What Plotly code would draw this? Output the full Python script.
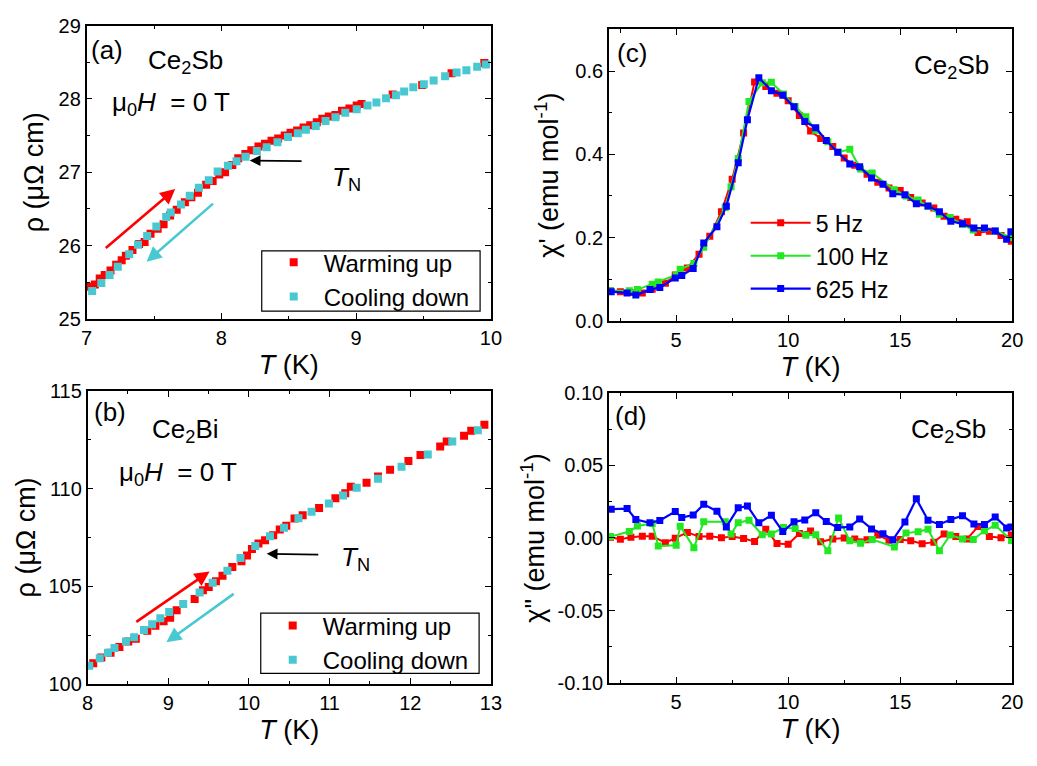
import plotly.graph_objects as go

# ---------------- data ----------------
# (a) Ce2Sb resistivity
a_warm_T = [7.012,7.061,7.097,7.134,7.177,7.219,7.260,7.291,7.340,7.389,7.430,7.474,7.527,7.571,7.619,7.668,7.729,7.777,7.826,7.887,7.935,7.984,8.027,8.081,8.125,8.178,8.222,8.275,8.324,8.372,8.421,8.470,8.513,8.562,8.610,8.659,8.708,8.749,8.797,8.846,8.895,8.950,9.004,9.040,9.271,9.490,9.708,9.951]
a_warm_rho = [25.44,25.47,25.55,25.60,25.66,25.74,25.80,25.86,25.94,26.02,26.05,26.16,26.23,26.29,26.41,26.49,26.59,26.66,26.72,26.83,26.88,26.97,27.00,27.10,27.19,27.25,27.30,27.35,27.39,27.43,27.46,27.50,27.54,27.57,27.61,27.64,27.68,27.73,27.76,27.78,27.84,27.87,27.91,27.93,28.06,28.19,28.35,28.49]
a_cool_T = [7.041,7.109,7.170,7.231,7.316,7.381,7.449,7.517,7.590,7.624,7.700,7.765,7.833,7.906,7.972,8.049,8.112,8.178,8.263,8.336,8.416,8.494,8.567,8.627,8.700,8.773,8.846,8.919,9.004,9.084,9.150,9.222,9.295,9.356,9.424,9.502,9.575,9.660,9.745,9.818,9.898,9.963]
a_cool_rho = [25.38,25.49,25.60,25.71,25.88,26.01,26.13,26.26,26.39,26.45,26.56,26.68,26.79,26.89,27.01,27.09,27.15,27.21,27.29,27.34,27.41,27.48,27.53,27.58,27.63,27.70,27.75,27.81,27.86,27.91,27.95,28.01,28.05,28.10,28.16,28.20,28.25,28.31,28.36,28.39,28.44,28.47]

# (b) Ce2Bi resistivity
b_warm_T = [8.069,8.170,8.284,8.394,8.503,8.597,8.739,8.840,8.942,9.023,9.104,9.327,9.429,9.502,9.591,9.672,9.794,9.907,9.976,10.037,10.118,10.200,10.301,10.382,10.463,10.565,10.666,10.869,11.072,11.194,11.263,11.458,11.600,11.750,11.977,12.127,12.371,12.452,12.667,12.756,12.919]
b_warm_rho = [101.07,101.36,101.60,101.90,102.18,102.32,102.73,102.98,103.22,103.39,103.77,104.35,104.80,104.96,105.26,105.54,105.99,106.28,106.57,106.91,107.19,107.36,107.61,107.90,108.10,108.47,108.63,109.01,109.51,109.76,110.09,110.30,110.62,110.96,111.41,111.71,112.15,112.40,112.70,112.95,113.26]
b_cool_T = [8.020,8.150,8.252,8.333,8.475,8.576,8.698,8.800,8.901,9.011,9.185,9.388,9.550,9.733,9.895,10.078,10.261,10.435,10.614,10.776,10.991,11.166,11.336,11.600,11.892,12.217,12.521,12.838]
b_cool_rho = [100.94,101.32,101.60,101.85,102.18,102.40,102.76,103.06,103.37,103.69,104.10,104.68,105.18,105.79,106.45,107.06,107.56,108.00,108.48,108.81,109.24,109.64,110.04,110.50,111.11,111.74,112.40,112.98]

# (c),(d) Ce2Sb ac susceptibility
T_5Hz = [2.07,2.51,2.98,3.49,3.93,4.52,4.96,5.50,6.02,6.50,7.02,7.50,8.01,8.50,9.00,9.50,10.00,10.50,11.00,11.45,11.99,12.50,12.97,13.52,14.00,14.50,15.00,15.47,15.98,16.50,16.96,17.48,17.99,18.47,18.98,19.50,19.96]
chi1_5Hz = [0.072,0.070,0.068,0.067,0.076,0.090,0.110,0.127,0.160,0.203,0.262,0.340,0.451,0.574,0.563,0.547,0.529,0.493,0.456,0.438,0.419,0.391,0.374,0.352,0.333,0.319,0.313,0.296,0.283,0.271,0.251,0.244,0.238,0.212,0.215,0.205,0.191]
chi2_5Hz = [0.0004,-0.0009,0.0004,0.0011,0.0011,-0.0033,-0.0002,0.0038,0.0009,0.0011,0.0002,0.0009,-0.0004,-0.0024,0.0060,-0.0038,-0.0044,0.0031,0.0047,-0.0027,-0.0007,0.0000,-0.0007,-0.0013,0.0020,-0.0016,-0.0011,-0.0020,-0.0040,-0.0029,0.0027,0.0009,-0.0007,0.0078,0.0009,0.0002,0.0020]

T_100Hz = [2.07,2.91,3.27,3.93,4.20,5.00,5.18,5.79,6.23,7.19,7.45,7.77,8.25,8.84,9.25,9.79,10.31,10.79,11.23,11.77,12.25,12.75,13.23,13.75,14.74,15.26,15.80,16.24,16.75,17.23,17.78,18.26,18.76,19.24,19.97]
chi1_100Hz = [0.072,0.072,0.075,0.088,0.093,0.110,0.124,0.138,0.177,0.272,0.322,0.390,0.527,0.572,0.573,0.545,0.515,0.490,0.458,0.430,0.405,0.412,0.365,0.355,0.315,0.300,0.290,0.275,0.256,0.248,0.232,0.218,0.222,0.216,0.200]
chi2_100Hz = [0.0009,0.0044,0.0082,0.0100,-0.0056,-0.0051,0.0080,-0.0067,0.0111,0.0111,0.0027,0.0104,0.0122,0.0022,0.0027,0.0071,0.0064,0.0018,0.0022,-0.0089,0.0138,-0.0020,-0.0036,-0.0011,-0.0062,0.0033,0.0042,0.0060,-0.0089,0.0020,-0.0007,-0.0011,0.0049,0.0087,-0.0018]

T_625Hz = [2.10,2.81,3.20,3.83,4.27,4.96,5.25,5.76,6.23,6.82,7.24,7.77,8.18,8.69,9.25,9.76,10.26,10.74,11.23,11.70,12.21,12.75,13.19,13.72,14.23,14.67,15.21,15.72,16.24,16.75,17.26,17.78,18.29,18.76,19.24,19.75,19.94]
chi1_625Hz = [0.070,0.067,0.062,0.075,0.080,0.103,0.109,0.126,0.187,0.226,0.275,0.380,0.483,0.584,0.553,0.542,0.514,0.479,0.464,0.433,0.405,0.377,0.370,0.343,0.328,0.305,0.303,0.281,0.276,0.262,0.239,0.233,0.223,0.223,0.216,0.196,0.214]
chi2_625Hz = [0.0198,0.0202,0.0127,0.0104,0.0120,0.0182,0.0140,0.0158,0.0231,0.0184,0.0076,0.0207,0.0220,0.0104,0.0156,0.0044,0.0111,0.0124,0.0173,0.0113,0.0071,0.0076,0.0131,0.0062,0.0029,-0.0013,0.0109,0.0269,0.0122,0.0093,0.0127,0.0153,0.0096,0.0093,0.0144,0.0069,0.0076]

# tick labels of panel (d) y axis (hyphen minus as in the original)
d_tickvals = [-0.10, -0.05, 0.00, 0.05, 0.10]
d_ticktext = ["-0.10", "-0.05", "0.00", "0.05", "0.10"]

# ---------------- style ----------------
FONT = "Arial, Liberation Sans, sans-serif"
RED = "#FF0000"
CYAN = "#48C8D0"
GREEN = "#22E822"
BLUE = "#0000FF"
W, H = 1037, 766

def px(x0, x1):
    return [x0 / W, x1 / W]

def py(top, bottom):
    return [1 - bottom / H, 1 - top / H]

def axis(domain, rng, dtick, minor_dtick, title, anchor, standoff, fmt=None, tick0=None):
    d = dict(
        domain=domain, range=rng, anchor=anchor,
        showline=True, linecolor="black", linewidth=1.6, mirror="ticks",
        ticks="inside", ticklen=6, tickwidth=1.4, tickcolor="black",
        dtick=dtick, showgrid=False, zeroline=False,
        tickfont=dict(family=FONT, size=20, color="black"),
        minor=dict(ticks="inside", ticklen=3.5, tickwidth=1.4, tickcolor="black", dtick=minor_dtick, showgrid=False),
        title=dict(text=title, font=dict(family=FONT, size=27, color="black"), standoff=standoff),
    )
    if fmt:
        d["tickformat"] = fmt
    if tick0 is not None:
        d["tick0"] = tick0
        d["minor"]["tick0"] = tick0
    return d

fig = go.Figure()

# (a)
fig.add_trace(go.Scatter(x=a_warm_T, y=a_warm_rho, mode="markers", name="Warming up",
                         marker=dict(symbol="square", size=8, color=RED), xaxis="x", yaxis="y", legend="legend"))
fig.add_trace(go.Scatter(x=a_cool_T, y=a_cool_rho, mode="markers", name="Cooling down",
                         marker=dict(symbol="square", size=8, color=CYAN), xaxis="x", yaxis="y", legend="legend"))
# (b)
fig.add_trace(go.Scatter(x=b_warm_T, y=b_warm_rho, mode="markers", name="Warming up",
                         marker=dict(symbol="square", size=8, color=RED), xaxis="x3", yaxis="y3", legend="legend2"))
fig.add_trace(go.Scatter(x=b_cool_T, y=b_cool_rho, mode="markers", name="Cooling down",
                         marker=dict(symbol="square", size=8, color=CYAN), xaxis="x3", yaxis="y3", legend="legend2"))
# (c)
for T, chi, col, nm, lw in [(T_5Hz, chi1_5Hz, RED, "5 Hz", 2),
                            (T_100Hz, chi1_100Hz, GREEN, "100 Hz", 2),
                            (T_625Hz, chi1_625Hz, BLUE, "625 Hz", 2.2)]:
    fig.add_trace(go.Scatter(x=T, y=chi, mode="lines+markers", name=nm,
                             line=dict(color=col, width=lw),
                             marker=dict(symbol="square", size=7, color=col),
                             xaxis="x2", yaxis="y2", legend="legend3"))
# (d)
for T, chi, col, nm, lw in [(T_5Hz, chi2_5Hz, RED, "5 Hz", 2),
                            (T_100Hz, chi2_100Hz, GREEN, "100 Hz", 2),
                            (T_625Hz, chi2_625Hz, BLUE, "625 Hz", 2.2)]:
    fig.add_trace(go.Scatter(x=T, y=chi, mode="lines+markers", name=nm, showlegend=False,
                             line=dict(color=col, width=lw),
                             marker=dict(symbol="square", size=7, color=col),
                             xaxis="x4", yaxis="y4"))

yaxis4 = axis(py(393, 692), [-0.10, 0.10], 0.05, 0.025, "χ\" (emu mol<sup>-1</sup>)", "x4", 5)
yaxis4["tickmode"] = "array"
yaxis4["tickvals"] = d_tickvals
yaxis4["ticktext"] = d_ticktext
yaxis4.pop("dtick")
yaxis4["minor"]["tickmode"] = "linear"
yaxis4["minor"]["tick0"] = -0.1

LEG_FONT = dict(family=FONT, size=24, color="black")

layout = dict(
    width=W, height=H,
    margin=dict(l=0, r=0, t=0, b=0),
    paper_bgcolor="white", plot_bgcolor="white",
    font=dict(family=FONT, color="black"),
    xaxis=axis(px(82, 493), [7, 10], 1, 0.5, "<i>T</i> (K)", "y", 7),
    yaxis=axis(py(15, 317), [25, 29], 1, 0.5, "ρ (μΩ cm)", "x", 7),
    xaxis2=axis(px(613, 1023), [2, 20], 5, 2.5, "<i>T</i> (K)", "y2", 7, tick0=0),
    yaxis2=axis(py(19, 319), [0, 0.7], 0.2, 0.1, "χ' (emu mol<sup>-1</sup>)", "x2", 9, fmt=".1f"),
    xaxis3=axis(px(83, 493), [8, 13], 1, 0.5, "<i>T</i> (K)", "y3", 7),
    yaxis3=axis(py(391, 693), [100, 115], 5, 2.5, "ρ (μΩ cm)", "x3", 5),
    xaxis4=axis(px(613, 1023), [2, 20], 5, 2.5, "<i>T</i> (K)", "y4", 7, tick0=0),
    yaxis4=yaxis4,
    legend=dict(x=262 / W, y=1 - 236 / H, xanchor="left", yanchor="top",
                borderwidth=0, bgcolor="rgba(0,0,0,0)", font=LEG_FONT, itemwidth=50),
    legend2=dict(x=261 / W, y=1 - 610 / H, xanchor="left", yanchor="top",
                 borderwidth=0, bgcolor="rgba(0,0,0,0)", font=LEG_FONT, itemwidth=50),
    legend3=dict(x=752 / W, y=1 - 196 / H, xanchor="left", yanchor="top",
                 bgcolor="rgba(0,0,0,0)", borderwidth=0,
                 font=dict(family=FONT, size=23, color="black"), itemwidth=60),
    shapes=[
        dict(type="rect", xref="paper", yref="paper", x0=260 / W, x1=482 / W, y0=1 - 309 / H, y1=1 - 247 / H,
             line=dict(color="black", width=1.2), fillcolor="rgba(255,255,255,0)", layer="above"),
        dict(type="rect", xref="paper", yref="paper", x0=259 / W, x1=481 / W, y0=1 - 682 / H, y1=1 - 620 / H,
             line=dict(color="black", width=1.2), fillcolor="rgba(255,255,255,0)", layer="above"),
    ],
)
fig.update_layout(**layout)

ann = []
def txt(x, y, s, xanchor="left", size=26):
    ann.append(dict(x=x / W, y=1 - y / H, xref="paper", yref="paper", text=s, showarrow=False,
                    xanchor=xanchor, yanchor="middle", font=dict(family=FONT, size=size, color="black")))

# panel labels
txt(84, 40, "(a)")
txt(142, 52, "Ce<sub>2</sub>Sb")
txt(106, 95, "μ<sub>0</sub><i>H</i>  = 0 T")
txt(87, 413, "(b)")
txt(146, 432, "Ce<sub>2</sub>Bi")
txt(113, 476, "μ<sub>0</sub><i>H</i>  = 0 T")
txt(619, 43, "(c)")
txt(1001, 57, "Ce<sub>2</sub>Sb", xanchor="right")
txt(617, 417, "(d)")
txt(998, 432, "Ce<sub>2</sub>Sb", xanchor="right")

# T_N labels
ann.append(dict(x=8.93, y=26.92, xref="x", yref="y", text="<i>T</i><sub>N</sub>", showarrow=False,
                font=dict(family=FONT, size=26, color="black")))
ann.append(dict(x=11.32, y=106.4, xref="x3", yref="y3", text="<i>T</i><sub>N</sub>", showarrow=False,
                font=dict(family=FONT, size=26, color="black")))

def arrow(xr, yr, x0, y0, x1, y1, color, width=2.5, size=1.0):
    ann.append(dict(x=x1, y=y1, ax=x0, ay=y0, xref=xr, yref=yr, axref=xr, ayref=yr,
                    text="", showarrow=True, arrowhead=2, arrowsize=size, arrowwidth=width,
                    arrowcolor=color, standoff=0, startstandoff=0))

# (a) arrows
arrow("x", "y", 7.131, 25.95, 7.657, 26.77, RED, 2.6, 1.15)
arrow("x", "y", 7.949, 26.59, 7.445, 25.78, CYAN, 2.6, 1.15)
arrow("x", "y", 8.606, 27.15, 8.21, 27.16, "black", 1.8, 1.2)
# (b) arrows
arrow("x3", "y3", 8.585, 103.13, 9.512, 105.76, RED, 2.6, 1.15)
arrow("x3", "y3", 9.829, 104.67, 8.976, 102.14, CYAN, 2.6, 1.15)
arrow("x3", "y3", 10.878, 106.62, 10.22, 106.66, "black", 1.8, 1.2)

fig.update_layout(annotations=ann)
fig.write_html("out.html")
